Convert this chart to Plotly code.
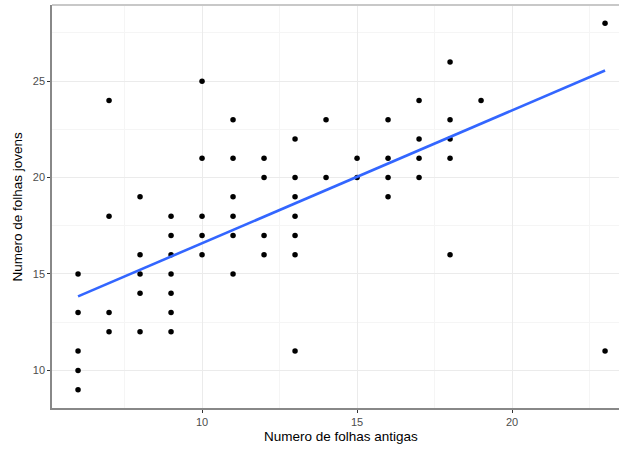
import plotly.graph_objects as go

folhas_antigas = [6,6,6,6,6, 7,7,7,7, 8,8,8,8,8, 9,9,9,9,9,9,9,
                  10,10,10,10,10, 11,11,11,11,11,11, 12,12,12,12,
                  13,13,13,13,13,13,13, 14,14, 15,15, 16,16,16,16,
                  17,17,17,17, 18,18,18,18,18, 19, 23,23]
folhas_jovens = [15,13,11,10,9, 24,18,13,12, 19,16,15,14,12, 18,17,16,15,14,13,12,
                 25,21,18,17,16, 23,21,19,18,17,15, 21,20,17,16,
                 22,20,19,18,17,16,11, 23,20, 21,20, 23,21,20,19,
                 24,22,21,20, 26,23,22,21,16, 24, 28,11]

# regression line (lm fit endpoints)
ajuste_x = [6, 23]
ajuste_y = [13.84, 25.55]

x_ticks = [10, 15, 20]
y_ticks = [10, 15, 20, 25]

fig = go.Figure()
fig.add_trace(go.Scatter(x=folhas_antigas, y=folhas_jovens, mode="markers",
                         marker=dict(color="black", size=5.5), showlegend=False))
fig.add_trace(go.Scatter(x=ajuste_x, y=ajuste_y, mode="lines",
                         line=dict(color="#3366FF", width=2.6), showlegend=False))

tickfont = dict(family="Liberation Sans, Arial", size=11, color="#4d4d4d")
titlefont = dict(family="Liberation Sans, Arial", size=13.5, color="black")

fig.update_layout(
    width=619, height=450,
    margin=dict(l=52, r=0, t=5, b=42),
    plot_bgcolor="white", paper_bgcolor="white",
    xaxis=dict(range=[5.16, 23.45], tickvals=x_ticks, ticks="outside", ticklen=3,
               tickcolor="#333333", tickfont=tickfont,
               showgrid=True, gridcolor="#ebebeb", gridwidth=1,
               minor=dict(tickvals=[7.5, 12.5, 17.5, 22.5], showgrid=True, gridcolor="#f5f5f5", gridwidth=0.6),
               showline=True, linecolor="#888888", linewidth=1.5, zeroline=False),
    yaxis=dict(range=[8.05, 28.95], tickvals=y_ticks, ticks="outside", ticklen=3,
               tickcolor="#333333", tickfont=tickfont,
               showgrid=True, gridcolor="#ebebeb", gridwidth=1,
               minor=dict(tickvals=[12.5, 17.5, 22.5, 27.5], showgrid=True, gridcolor="#f5f5f5", gridwidth=0.6),
               showline=True, linecolor="#888888", linewidth=1.5, zeroline=False),
    shapes=[dict(type="line", xref="paper", yref="paper", x0=0, x1=1, y0=1, y1=1,
                 line=dict(color="#c8c8c8", width=2))],
    annotations=[
        dict(text="Numero de folhas antigas", xref="paper", yref="paper",
             x=(341 - 52) / 567, y=-(437 - 408) / 403, xanchor="center", yanchor="middle",
             showarrow=False, font=titlefont),
        dict(text="Numero de folhas jovens", xref="paper", yref="paper",
             x=-(52 - 17) / 567, y=0.5, xanchor="center", yanchor="middle", textangle=-90,
             showarrow=False, font=titlefont),
    ],
)

fig.write_html("out.html")
